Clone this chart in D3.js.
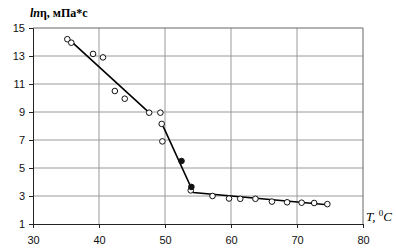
<!DOCTYPE html>
<html lang="ru">
<head>
<meta charset="UTF-8">
<title>ln viscosity vs temperature</title>
<script src="https://d3js.org/d3.v7.min.js"></script>
<style>
    body { margin: 0; background: #fff; }
    svg { display: block; }
    .tick text { font-family: Arial, 'Liberation Sans', sans-serif; font-size: 11px; fill: #111; }
</style>
</head>
<body>
<div id="chart"></div>
<script>
    // open circles (temperature, ln viscosity)
    var openT  = [35.2, 35.8, 39.1, 40.6, 42.4, 43.9, 47.6, 49.3, 49.5, 49.6, 53.9,
                  57.2, 59.7, 61.4, 63.7, 66.2, 68.5, 70.7, 72.6, 74.6];
    var openLn = [14.2, 13.95, 13.15, 12.9, 10.5, 9.95, 8.95, 8.95, 8.15, 6.9, 3.4,
                  3.0, 2.82, 2.8, 2.8, 2.6, 2.55, 2.52, 2.5, 2.42];
    // filled circles
    var filledT  = [52.5, 54.0];
    var filledLn = [5.5, 3.65];
    // fitted broken line
    var fitT  = [35.2, 47.6, null, 49.5, 54.3, 74.6];
    var fitLn = [14.3, 8.95, null, 8.2, 3.25, 2.38];

    var xTicks = [30, 40, 50, 60, 70, 80];
    var yTicks = [1, 3, 5, 7, 9, 11, 13, 15];

    var svgW = 396, svgH = 252;
    var plotL = 33, plotR = 363, plotT = 28, plotB = 224;

    var svg = d3.select('#chart').append('svg')
        .attr('width', svgW)
        .attr('height', svgH);

    var x = d3.scaleLinear().domain([30, 80]).range([plotL, plotR]);
    var y = d3.scaleLinear().domain([1, 15]).range([plotB, plotT]);

    // grid
    svg.append('g').selectAll('line')
        .data(xTicks.slice(1, -1))
        .enter().append('line')
        .attr('x1', d => x(d)).attr('x2', d => x(d))
        .attr('y1', plotT).attr('y2', plotB)
        .attr('stroke', '#9a9a9a').attr('stroke-width', 1);
    svg.append('g').selectAll('line')
        .data(yTicks.slice(1, -1))
        .enter().append('line')
        .attr('x1', plotL).attr('x2', plotR)
        .attr('y1', d => y(d)).attr('y2', d => y(d))
        .attr('stroke', '#9a9a9a').attr('stroke-width', 1);

    // frame top/right
    svg.append('path')
        .attr('d', `M${plotL},${plotT}H${plotR}V${plotB}`)
        .attr('fill', 'none').attr('stroke', '#666').attr('stroke-width', 1);

    // axes
    svg.append('g')
        .attr('transform', `translate(0,${plotB})`)
        .call(d3.axisBottom(x).tickValues(xTicks).tickSize(4).tickPadding(8));
    svg.append('g')
        .attr('transform', `translate(${plotL},0)`)
        .call(d3.axisLeft(y).tickValues(yTicks).tickSize(4).tickPadding(4));
    svg.selectAll('.domain').attr('stroke', '#222');
    svg.selectAll('.tick line').attr('stroke', '#222');

    // fitted line
    var fit = fitT.map((t, i) => [t, fitLn[i]]);
    var line = d3.line()
        .defined(d => d[0] !== null)
        .x(d => x(d[0]))
        .y(d => y(d[1]));
    svg.append('path')
        .datum(fit)
        .attr('d', line)
        .attr('fill', 'none')
        .attr('stroke', '#000')
        .attr('stroke-width', 1.6);

    // points
    svg.append('g').selectAll('circle')
        .data(openT.map((t, i) => [t, openLn[i]]))
        .enter().append('circle')
        .attr('cx', d => x(d[0]))
        .attr('cy', d => y(d[1]))
        .attr('r', 2.8)
        .attr('fill', '#fff')
        .attr('stroke', '#111')
        .attr('stroke-width', 1);
    svg.append('g').selectAll('circle')
        .data(filledT.map((t, i) => [t, filledLn[i]]))
        .enter().append('circle')
        .attr('cx', d => x(d[0]))
        .attr('cy', d => y(d[1]))
        .attr('r', 2.8)
        .attr('fill', '#111')
        .attr('stroke', '#111');

    // y title
    var yt = svg.append('text')
        .attr('x', 30).attr('y', 17)
        .style('font-family', "'Liberation Serif', 'DejaVu Serif', serif")
        .style('font-size', '12px')
        .style('font-weight', 'bold');
    yt.append('tspan').style('font-style', 'italic').text('ln');
    yt.append('tspan').text('η, мПа*с');

    // x title
    var xt = svg.append('text')
        .attr('x', 366).attr('y', 221)
        .style('font-family', "'Liberation Serif', 'DejaVu Serif', serif")
        .style('font-size', '13px')
        .style('font-style', 'italic');
    xt.append('tspan').text('T, ');
    xt.append('tspan').attr('dy', -5).style('font-size', '9px').style('font-style', 'normal').text('0');
    xt.append('tspan').attr('dy', 5).text('C');
</script>
</body>
</html>
